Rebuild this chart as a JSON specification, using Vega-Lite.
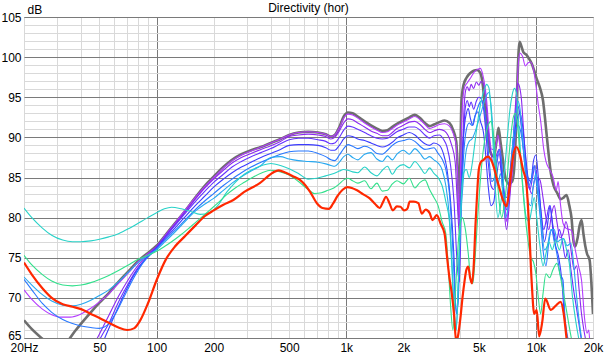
{
"$schema": "https://vega.github.io/schema/vega-lite/v6.json",
"width": 569, "height": 321,
"autosize": {"type": "none"},
"padding": {"left": 24, "top": 17, "right": 18, "bottom": 17},
"background": "white",
"title": {"text": "Directivity (hor)", "fontSize": 12, "fontWeight": "normal", "font": "Liberation Sans", "color": "#000000", "offset": -12, "anchor": "middle", "frame": "group"},
"config": {"view": {"stroke": "#707070", "strokeWidth": 1}, "font": "Liberation Sans"},
"data": {"values": [
{"a":"0","f":20,"v":67.2},{"a":"0","f":22,"v":66.1},{"a":"0","f":25,"v":64.9},{"a":"0","f":28,"v":63.9},{"a":"0","f":31,"v":63.6},{"a":"0","f":34,"v":64.6},{"a":"0","f":37,"v":65.8},{"a":"0","f":40,"v":66.8},{"a":"0","f":45,"v":68.2},{"a":"0","f":50,"v":69.4},{"a":"0","f":56,"v":70.6},{"a":"0","f":63,"v":72},{"a":"0","f":71,"v":73.3},{"a":"0","f":80,"v":74.6},{"a":"0","f":90,"v":75.6},{"a":"0","f":100,"v":76.5},{"a":"0","f":112,"v":77.9},{"a":"0","f":125,"v":79.3},{"a":"0","f":140,"v":80.7},{"a":"0","f":160,"v":82.5},{"a":"0","f":180,"v":84},{"a":"0","f":200,"v":85.1},{"a":"0","f":225,"v":86.3},{"a":"0","f":250,"v":87.2},{"a":"0","f":280,"v":87.9},{"a":"0","f":315,"v":88.4},{"a":"0","f":355,"v":88.8},{"a":"0","f":400,"v":89.3},{"a":"0","f":450,"v":89.8},{"a":"0","f":500,"v":90.3},{"a":"0","f":560,"v":90.6},{"a":"0","f":630,"v":90.7},{"a":"0","f":710,"v":90.6},{"a":"0","f":780,"v":90.4},{"a":"0","f":830,"v":90.1},{"a":"0","f":870,"v":90.3},{"a":"0","f":920,"v":91.3},{"a":"0","f":970,"v":92.6},{"a":"0","f":1020,"v":93.1},{"a":"0","f":1080,"v":93},{"a":"0","f":1150,"v":92.6},{"a":"0","f":1250,"v":92},{"a":"0","f":1350,"v":91.5},{"a":"0","f":1450,"v":91.1},{"a":"0","f":1550,"v":90.8},{"a":"0","f":1650,"v":90.9},{"a":"0","f":1750,"v":91.3},{"a":"0","f":1850,"v":91.7},{"a":"0","f":2000,"v":92.1},{"a":"0","f":2150,"v":92.5},{"a":"0","f":2300,"v":92.8},{"a":"0","f":2450,"v":92.4},{"a":"0","f":2600,"v":91.8},{"a":"0","f":2750,"v":91.4},{"a":"0","f":2900,"v":91.6},{"a":"0","f":3100,"v":91.9},{"a":"0","f":3300,"v":92.1},{"a":"0","f":3500,"v":91.8},{"a":"0","f":3650,"v":91},{"a":"0","f":3800,"v":89.5},{"a":"0","f":3900,"v":84},{"a":"0","f":3950,"v":80},{"a":"0","f":4000,"v":88},{"a":"0","f":4050,"v":94.5},{"a":"0","f":4150,"v":96.5},{"a":"0","f":4300,"v":97.4},{"a":"0","f":4500,"v":98},{"a":"0","f":4700,"v":98.3},{"a":"0","f":4900,"v":98.4},{"a":"0","f":5100,"v":98},{"a":"0","f":5250,"v":96.5},{"a":"0","f":5400,"v":93.5},{"a":"0","f":5550,"v":90.5},{"a":"0","f":5750,"v":88.2},{"a":"0","f":6000,"v":87.6},{"a":"0","f":6200,"v":89.5},{"a":"0","f":6350,"v":91.2},{"a":"0","f":6500,"v":89.5},{"a":"0","f":6700,"v":87.2},{"a":"0","f":6900,"v":85},{"a":"0","f":7200,"v":84.2},{"a":"0","f":7500,"v":84.5},{"a":"0","f":7700,"v":86.5},{"a":"0","f":7850,"v":91},{"a":"0","f":8000,"v":97.5},{"a":"0","f":8200,"v":101.9},{"a":"0","f":8400,"v":101.3},{"a":"0","f":8600,"v":100.6},{"a":"0","f":8900,"v":100.3},{"a":"0","f":9200,"v":99.8},{"a":"0","f":9500,"v":99.2},{"a":"0","f":9800,"v":98.3},{"a":"0","f":10100,"v":97.3},{"a":"0","f":10500,"v":96.2},{"a":"0","f":10900,"v":94.6},{"a":"0","f":11200,"v":92.1},{"a":"0","f":11600,"v":88.5},{"a":"0","f":12000,"v":85.5},{"a":"0","f":12400,"v":84},{"a":"0","f":13000,"v":83},{"a":"0","f":13500,"v":82.3},{"a":"0","f":14000,"v":82.5},{"a":"0","f":14500,"v":82.8},{"a":"0","f":15000,"v":81.5},{"a":"0","f":15400,"v":80},{"a":"0","f":15800,"v":77},{"a":"0","f":16100,"v":76.4},{"a":"0","f":16600,"v":77.5},{"a":"0","f":17000,"v":79},{"a":"0","f":17400,"v":79.7},{"a":"0","f":17800,"v":78},{"a":"0","f":18200,"v":76.5},{"a":"0","f":18600,"v":75.5},{"a":"0","f":19200,"v":74.7},{"a":"0","f":19600,"v":72},{"a":"0","f":20000,"v":68},
{"a":"10","f":20,"v":71},{"a":"10","f":22,"v":69.8},{"a":"10","f":25,"v":68.6},{"a":"10","f":28,"v":67.9},{"a":"10","f":31,"v":67.6},{"a":"10","f":35,"v":67.6},{"a":"10","f":40,"v":68},{"a":"10","f":45,"v":68.7},{"a":"10","f":50,"v":69.5},{"a":"10","f":56,"v":70.5},{"a":"10","f":63,"v":71.8},{"a":"10","f":71,"v":73.1},{"a":"10","f":80,"v":74.5},{"a":"10","f":90,"v":75.5},{"a":"10","f":100,"v":76.4},{"a":"10","f":112,"v":77.9},{"a":"10","f":125,"v":79.3},{"a":"10","f":140,"v":80.8},{"a":"10","f":160,"v":82.5},{"a":"10","f":180,"v":83.9},{"a":"10","f":200,"v":85},{"a":"10","f":225,"v":86.2},{"a":"10","f":250,"v":87.1},{"a":"10","f":280,"v":87.8},{"a":"10","f":315,"v":88.3},{"a":"10","f":355,"v":88.8},{"a":"10","f":400,"v":89.3},{"a":"10","f":450,"v":89.8},{"a":"10","f":500,"v":90.3},{"a":"10","f":560,"v":90.6},{"a":"10","f":630,"v":90.7},{"a":"10","f":710,"v":90.6},{"a":"10","f":780,"v":90.4},{"a":"10","f":830,"v":90.1},{"a":"10","f":870,"v":90.3},{"a":"10","f":920,"v":91.2},{"a":"10","f":970,"v":92.4},{"a":"10","f":1020,"v":92.9},{"a":"10","f":1080,"v":92.8},{"a":"10","f":1150,"v":92.4},{"a":"10","f":1250,"v":91.8},{"a":"10","f":1350,"v":91.3},{"a":"10","f":1450,"v":90.9},{"a":"10","f":1550,"v":90.6},{"a":"10","f":1650,"v":90.7},{"a":"10","f":1750,"v":91.1},{"a":"10","f":1850,"v":91.5},{"a":"10","f":2000,"v":91.9},{"a":"10","f":2150,"v":92.3},{"a":"10","f":2300,"v":92.6},{"a":"10","f":2450,"v":92.2},{"a":"10","f":2600,"v":91.6},{"a":"10","f":2750,"v":91.1},{"a":"10","f":2900,"v":91.3},{"a":"10","f":3100,"v":91.6},{"a":"10","f":3300,"v":91.7},{"a":"10","f":3500,"v":91.4},{"a":"10","f":3650,"v":90.6},{"a":"10","f":3800,"v":89},{"a":"10","f":3900,"v":83},{"a":"10","f":3950,"v":79},{"a":"10","f":4000,"v":86},{"a":"10","f":4080,"v":93},{"a":"10","f":4200,"v":96.2},{"a":"10","f":4350,"v":96.8},{"a":"10","f":4550,"v":97.5},{"a":"10","f":4750,"v":98.2},{"a":"10","f":4950,"v":98.5},{"a":"10","f":5100,"v":98.6},{"a":"10","f":5250,"v":97.8},{"a":"10","f":5400,"v":96.2},{"a":"10","f":5500,"v":94.6},{"a":"10","f":5650,"v":91},{"a":"10","f":5850,"v":88.5},{"a":"10","f":6100,"v":88.5},{"a":"10","f":6300,"v":90.3},{"a":"10","f":6450,"v":89},{"a":"10","f":6650,"v":85.5},{"a":"10","f":6850,"v":82},{"a":"10","f":7000,"v":79.5},{"a":"10","f":7200,"v":82},{"a":"10","f":7500,"v":85.5},{"a":"10","f":7750,"v":90},{"a":"10","f":7950,"v":96},{"a":"10","f":8100,"v":99.5},{"a":"10","f":8250,"v":100.5},{"a":"10","f":8500,"v":100.1},{"a":"10","f":8800,"v":98.9},{"a":"10","f":9100,"v":99.3},{"a":"10","f":9400,"v":99.4},{"a":"10","f":9700,"v":98.5},{"a":"10","f":10000,"v":96.5},{"a":"10","f":10300,"v":94},{"a":"10","f":10600,"v":92},{"a":"10","f":11000,"v":88.5},{"a":"10","f":11300,"v":87},{"a":"10","f":11800,"v":86},{"a":"10","f":12300,"v":85.1},{"a":"10","f":12800,"v":83.4},{"a":"10","f":13100,"v":84.5},{"a":"10","f":13400,"v":82.2},{"a":"10","f":13900,"v":79.3},{"a":"10","f":14400,"v":78.7},{"a":"10","f":15400,"v":78.4},{"a":"10","f":16000,"v":76.4},{"a":"10","f":16800,"v":73.9},{"a":"10","f":17400,"v":72.2},{"a":"10","f":18100,"v":67.2},{"a":"10","f":18600,"v":65.6},{"a":"10","f":19000,"v":66},{"a":"10","f":19300,"v":64},{"a":"10","f":20000,"v":62},
{"a":"20","f":20,"v":60},{"a":"20","f":30,"v":59},{"a":"20","f":40,"v":61.5},{"a":"20","f":45,"v":63.5},{"a":"20","f":50,"v":65.5},{"a":"20","f":56,"v":67.8},{"a":"20","f":63,"v":70.2},{"a":"20","f":71,"v":72.3},{"a":"20","f":80,"v":74.1},{"a":"20","f":90,"v":75.4},{"a":"20","f":100,"v":76.4},{"a":"20","f":112,"v":77.8},{"a":"20","f":125,"v":79.2},{"a":"20","f":140,"v":80.6},{"a":"20","f":160,"v":82.3},{"a":"20","f":180,"v":83.7},{"a":"20","f":200,"v":84.8},{"a":"20","f":225,"v":85.9},{"a":"20","f":250,"v":86.8},{"a":"20","f":280,"v":87.5},{"a":"20","f":315,"v":88},{"a":"20","f":355,"v":88.5},{"a":"20","f":400,"v":88.95},{"a":"20","f":450,"v":89.5},{"a":"20","f":500,"v":90.1},{"a":"20","f":560,"v":90.3},{"a":"20","f":630,"v":90.4},{"a":"20","f":710,"v":90.3},{"a":"20","f":780,"v":90.1},{"a":"20","f":830,"v":89.8},{"a":"20","f":870,"v":90},{"a":"20","f":920,"v":90.8},{"a":"20","f":970,"v":91.8},{"a":"20","f":1020,"v":92.3},{"a":"20","f":1080,"v":92.2},{"a":"20","f":1150,"v":91.8},{"a":"20","f":1250,"v":91.3},{"a":"20","f":1350,"v":90.8},{"a":"20","f":1450,"v":90.5},{"a":"20","f":1550,"v":90.2},{"a":"20","f":1650,"v":90.2},{"a":"20","f":1750,"v":90.6},{"a":"20","f":1850,"v":91.1},{"a":"20","f":2000,"v":91.5},{"a":"20","f":2150,"v":91.9},{"a":"20","f":2300,"v":92},{"a":"20","f":2450,"v":91.6},{"a":"20","f":2600,"v":91},{"a":"20","f":2750,"v":90.6},{"a":"20","f":2900,"v":90.8},{"a":"20","f":3100,"v":91},{"a":"20","f":3300,"v":90.8},{"a":"20","f":3450,"v":90.2},{"a":"20","f":3600,"v":89},{"a":"20","f":3750,"v":87},{"a":"20","f":3850,"v":82},{"a":"20","f":3950,"v":78},{"a":"20","f":4050,"v":84},{"a":"20","f":4150,"v":92},{"a":"20","f":4250,"v":95.7},{"a":"20","f":4350,"v":96.3},{"a":"20","f":4450,"v":95.8},{"a":"20","f":4550,"v":96.6},{"a":"20","f":4700,"v":96.1},{"a":"20","f":4850,"v":96.9},{"a":"20","f":5000,"v":96.5},{"a":"20","f":5150,"v":97},{"a":"20","f":5300,"v":96.6},{"a":"20","f":5450,"v":94.5},{"a":"20","f":5600,"v":91},{"a":"20","f":5800,"v":88},{"a":"20","f":6000,"v":86.5},{"a":"20","f":6200,"v":87.8},{"a":"20","f":6400,"v":88.5},{"a":"20","f":6600,"v":85},{"a":"20","f":6800,"v":81},{"a":"20","f":7000,"v":78.5},{"a":"20","f":7200,"v":81},{"a":"20","f":7450,"v":86},{"a":"20","f":7700,"v":92},{"a":"20","f":7900,"v":95.5},{"a":"20","f":8050,"v":96.7},{"a":"20","f":8200,"v":96.3},{"a":"20","f":8400,"v":94.6},{"a":"20","f":8600,"v":91},{"a":"20","f":8900,"v":86.3},{"a":"20","f":9200,"v":84},{"a":"20","f":9500,"v":83},{"a":"20","f":9800,"v":84.5},{"a":"20","f":10100,"v":85},{"a":"20","f":10500,"v":84.7},{"a":"20","f":10900,"v":82.5},{"a":"20","f":11300,"v":80},{"a":"20","f":11700,"v":78.5},{"a":"20","f":12100,"v":80.5},{"a":"20","f":12500,"v":81.5},{"a":"20","f":12900,"v":79.5},{"a":"20","f":13400,"v":77.5},{"a":"20","f":13900,"v":78},{"a":"20","f":14400,"v":79.5},{"a":"20","f":14900,"v":78},{"a":"20","f":15400,"v":75.5},{"a":"20","f":15900,"v":73.5},{"a":"20","f":16400,"v":74},{"a":"20","f":16900,"v":71},{"a":"20","f":17400,"v":68},{"a":"20","f":17900,"v":66},{"a":"20","f":18400,"v":64.5},{"a":"20","f":20000,"v":61},
{"a":"30","f":20,"v":58},{"a":"30","f":40,"v":60},{"a":"30","f":47,"v":63.5},{"a":"30","f":52,"v":65.5},{"a":"30","f":56,"v":66.8},{"a":"30","f":63,"v":69.5},{"a":"30","f":71,"v":71.8},{"a":"30","f":80,"v":73.8},{"a":"30","f":90,"v":75.2},{"a":"30","f":100,"v":76.3},{"a":"30","f":112,"v":77.7},{"a":"30","f":125,"v":79},{"a":"30","f":140,"v":80.4},{"a":"30","f":160,"v":82},{"a":"30","f":180,"v":83.3},{"a":"30","f":200,"v":84.4},{"a":"30","f":225,"v":85.4},{"a":"30","f":250,"v":86.3},{"a":"30","f":280,"v":87},{"a":"30","f":315,"v":87.6},{"a":"30","f":355,"v":88.1},{"a":"30","f":400,"v":88.6},{"a":"30","f":450,"v":89.2},{"a":"30","f":500,"v":89.7},{"a":"30","f":560,"v":89.9},{"a":"30","f":630,"v":89.9},{"a":"30","f":710,"v":89.7},{"a":"30","f":780,"v":89.5},{"a":"30","f":830,"v":89.2},{"a":"30","f":870,"v":89.3},{"a":"30","f":920,"v":90},{"a":"30","f":970,"v":90.9},{"a":"30","f":1020,"v":91.4},{"a":"30","f":1080,"v":91.3},{"a":"30","f":1150,"v":91},{"a":"30","f":1250,"v":90.6},{"a":"30","f":1350,"v":90.2},{"a":"30","f":1450,"v":89.9},{"a":"30","f":1550,"v":89.8},{"a":"30","f":1650,"v":89.9},{"a":"30","f":1750,"v":90.3},{"a":"30","f":1850,"v":90.7},{"a":"30","f":2000,"v":91},{"a":"30","f":2150,"v":91.3},{"a":"30","f":2300,"v":91.3},{"a":"30","f":2450,"v":90.9},{"a":"30","f":2600,"v":90.3},{"a":"30","f":2750,"v":89.9},{"a":"30","f":2900,"v":90.2},{"a":"30","f":3100,"v":90.3},{"a":"30","f":3250,"v":89.8},{"a":"30","f":3400,"v":88.8},{"a":"30","f":3550,"v":86.5},{"a":"30","f":3700,"v":82},{"a":"30","f":3850,"v":74},{"a":"30","f":3950,"v":72},{"a":"30","f":4050,"v":82},{"a":"30","f":4150,"v":90},{"a":"30","f":4250,"v":93.8},{"a":"30","f":4350,"v":94.6},{"a":"30","f":4450,"v":93.8},{"a":"30","f":4550,"v":94.4},{"a":"30","f":4700,"v":93.5},{"a":"30","f":4850,"v":94.5},{"a":"30","f":5000,"v":95},{"a":"30","f":5150,"v":94.8},{"a":"30","f":5300,"v":93.5},{"a":"30","f":5450,"v":90.5},{"a":"30","f":5600,"v":87},{"a":"30","f":5800,"v":84},{"a":"30","f":6000,"v":83.5},{"a":"30","f":6200,"v":86.5},{"a":"30","f":6400,"v":88},{"a":"30","f":6600,"v":86},{"a":"30","f":6800,"v":82.5},{"a":"30","f":7000,"v":81},{"a":"30","f":7250,"v":84},{"a":"30","f":7500,"v":88},{"a":"30","f":7750,"v":92},{"a":"30","f":7950,"v":94},{"a":"30","f":8150,"v":93.5},{"a":"30","f":8400,"v":91},{"a":"30","f":8700,"v":87},{"a":"30","f":9000,"v":84.5},{"a":"30","f":9300,"v":83.5},{"a":"30","f":9600,"v":85},{"a":"30","f":9900,"v":86.5},{"a":"30","f":10200,"v":84.5},{"a":"30","f":10600,"v":81},{"a":"30","f":11000,"v":78.5},{"a":"30","f":11400,"v":80},{"a":"30","f":11800,"v":81.5},{"a":"30","f":12300,"v":79},{"a":"30","f":12800,"v":77},{"a":"30","f":13300,"v":78.5},{"a":"30","f":13800,"v":77},{"a":"30","f":14300,"v":75},{"a":"30","f":14800,"v":76},{"a":"30","f":15300,"v":73.5},{"a":"30","f":15800,"v":71},{"a":"30","f":16300,"v":69},{"a":"30","f":16800,"v":67},{"a":"30","f":17300,"v":65},{"a":"30","f":18000,"v":63},
{"a":"40","f":20,"v":57},{"a":"40","f":45,"v":61},{"a":"40","f":50,"v":63.5},{"a":"40","f":54,"v":65.3},{"a":"40","f":60,"v":67.8},{"a":"40","f":67,"v":70.3},{"a":"40","f":75,"v":72.6},{"a":"40","f":85,"v":74.5},{"a":"40","f":100,"v":76.2},{"a":"40","f":112,"v":77.5},{"a":"40","f":125,"v":78.7},{"a":"40","f":140,"v":80},{"a":"40","f":160,"v":81.5},{"a":"40","f":180,"v":82.7},{"a":"40","f":200,"v":83.8},{"a":"40","f":225,"v":84.8},{"a":"40","f":250,"v":85.6},{"a":"40","f":280,"v":86.3},{"a":"40","f":315,"v":86.9},{"a":"40","f":355,"v":87.5},{"a":"40","f":400,"v":88},{"a":"40","f":450,"v":88.5},{"a":"40","f":500,"v":89},{"a":"40","f":560,"v":89.1},{"a":"40","f":630,"v":89.1},{"a":"40","f":710,"v":89},{"a":"40","f":780,"v":88.7},{"a":"40","f":830,"v":88.4},{"a":"40","f":870,"v":88.4},{"a":"40","f":920,"v":89},{"a":"40","f":970,"v":89.8},{"a":"40","f":1020,"v":90.2},{"a":"40","f":1080,"v":90.1},{"a":"40","f":1150,"v":89.8},{"a":"40","f":1250,"v":89.6},{"a":"40","f":1350,"v":89.3},{"a":"40","f":1450,"v":89},{"a":"40","f":1550,"v":88.8},{"a":"40","f":1650,"v":89},{"a":"40","f":1750,"v":89.4},{"a":"40","f":1850,"v":89.9},{"a":"40","f":2000,"v":90.3},{"a":"40","f":2150,"v":90.6},{"a":"40","f":2300,"v":90.3},{"a":"40","f":2450,"v":89.7},{"a":"40","f":2600,"v":89.2},{"a":"40","f":2750,"v":89},{"a":"40","f":2900,"v":89.3},{"a":"40","f":3100,"v":89},{"a":"40","f":3250,"v":88},{"a":"40","f":3400,"v":86},{"a":"40","f":3550,"v":82},{"a":"40","f":3700,"v":75},{"a":"40","f":3800,"v":68},{"a":"40","f":3900,"v":70},{"a":"40","f":4000,"v":80},{"a":"40","f":4100,"v":88},{"a":"40","f":4200,"v":91.5},{"a":"40","f":4300,"v":93},{"a":"40","f":4400,"v":93.6},{"a":"40","f":4500,"v":92.5},{"a":"40","f":4650,"v":91.5},{"a":"40","f":4800,"v":92.8},{"a":"40","f":4950,"v":93.2},{"a":"40","f":5100,"v":92},{"a":"40","f":5300,"v":90.5},{"a":"40","f":5450,"v":87.5},{"a":"40","f":5600,"v":84},{"a":"40","f":5800,"v":81.5},{"a":"40","f":6000,"v":82},{"a":"40","f":6200,"v":85},{"a":"40","f":6400,"v":87},{"a":"40","f":6600,"v":85.5},{"a":"40","f":6800,"v":83},{"a":"40","f":7000,"v":82.5},{"a":"40","f":7250,"v":85},{"a":"40","f":7500,"v":88.5},{"a":"40","f":7750,"v":91},{"a":"40","f":8000,"v":92.5},{"a":"40","f":8250,"v":93},{"a":"40","f":8500,"v":91.5},{"a":"40","f":8800,"v":88},{"a":"40","f":9100,"v":85},{"a":"40","f":9400,"v":84.5},{"a":"40","f":9700,"v":87},{"a":"40","f":10000,"v":87.8},{"a":"40","f":10300,"v":85},{"a":"40","f":10700,"v":80},{"a":"40","f":11100,"v":77},{"a":"40","f":11500,"v":79},{"a":"40","f":11900,"v":81.5},{"a":"40","f":12300,"v":78.4},{"a":"40","f":12700,"v":76.5},{"a":"40","f":13200,"v":75},{"a":"40","f":13700,"v":72.2},{"a":"40","f":14100,"v":68},{"a":"40","f":14500,"v":65.5},{"a":"40","f":15000,"v":64},{"a":"40","f":16000,"v":62},
{"a":"50","f":20,"v":72.3},{"a":"50","f":22,"v":71},{"a":"50","f":25,"v":69.3},{"a":"50","f":28,"v":68.2},{"a":"50","f":32,"v":67.3},{"a":"50","f":36,"v":66.8},{"a":"50","f":40,"v":66.5},{"a":"50","f":45,"v":66.3},{"a":"50","f":50,"v":66.2},{"a":"50","f":55,"v":66.6},{"a":"50","f":60,"v":67.8},{"a":"50","f":67,"v":70},{"a":"50","f":75,"v":72.3},{"a":"50","f":85,"v":74.4},{"a":"50","f":100,"v":76.1},{"a":"50","f":112,"v":77.3},{"a":"50","f":125,"v":78.4},{"a":"50","f":140,"v":79.6},{"a":"50","f":160,"v":81},{"a":"50","f":180,"v":82.1},{"a":"50","f":200,"v":83},{"a":"50","f":225,"v":84},{"a":"50","f":250,"v":84.8},{"a":"50","f":280,"v":85.6},{"a":"50","f":315,"v":86.3},{"a":"50","f":355,"v":86.9},{"a":"50","f":400,"v":87.4},{"a":"50","f":450,"v":87.9},{"a":"50","f":500,"v":88.2},{"a":"50","f":560,"v":88.3},{"a":"50","f":630,"v":88.3},{"a":"50","f":710,"v":88},{"a":"50","f":780,"v":87.6},{"a":"50","f":830,"v":87.2},{"a":"50","f":870,"v":87.1},{"a":"50","f":920,"v":87.8},{"a":"50","f":970,"v":88.6},{"a":"50","f":1020,"v":89.1},{"a":"50","f":1080,"v":88.9},{"a":"50","f":1150,"v":88.6},{"a":"50","f":1250,"v":88.9},{"a":"50","f":1350,"v":88.6},{"a":"50","f":1450,"v":88},{"a":"50","f":1550,"v":87.9},{"a":"50","f":1650,"v":88.4},{"a":"50","f":1750,"v":89},{"a":"50","f":1850,"v":89.4},{"a":"50","f":2000,"v":89.6},{"a":"50","f":2150,"v":89.8},{"a":"50","f":2300,"v":89.5},{"a":"50","f":2450,"v":88.9},{"a":"50","f":2600,"v":88.5},{"a":"50","f":2750,"v":88.6},{"a":"50","f":2900,"v":88.7},{"a":"50","f":3050,"v":88},{"a":"50","f":3200,"v":87.3},{"a":"50","f":3350,"v":86},{"a":"50","f":3500,"v":83},{"a":"50","f":3650,"v":76},{"a":"50","f":3750,"v":70},{"a":"50","f":3850,"v":68},{"a":"50","f":3950,"v":76},{"a":"50","f":4050,"v":83},{"a":"50","f":4150,"v":87.5},{"a":"50","f":4300,"v":91},{"a":"50","f":4450,"v":91.8},{"a":"50","f":4600,"v":91.5},{"a":"50","f":4750,"v":92.5},{"a":"50","f":4900,"v":93.5},{"a":"50","f":5050,"v":94.3},{"a":"50","f":5200,"v":94.6},{"a":"50","f":5350,"v":93.5},{"a":"50","f":5500,"v":91},{"a":"50","f":5650,"v":87.5},{"a":"50","f":5850,"v":84.5},{"a":"50","f":6050,"v":85},{"a":"50","f":6250,"v":87.5},{"a":"50","f":6450,"v":88.5},{"a":"50","f":6650,"v":86},{"a":"50","f":6850,"v":82.5},{"a":"50","f":7050,"v":81.5},{"a":"50","f":7300,"v":84.5},{"a":"50","f":7550,"v":88},{"a":"50","f":7800,"v":90.5},{"a":"50","f":8050,"v":91.5},{"a":"50","f":8300,"v":90.8},{"a":"50","f":8600,"v":88.5},{"a":"50","f":8900,"v":86},{"a":"50","f":9200,"v":84},{"a":"50","f":9500,"v":85},{"a":"50","f":9800,"v":86.5},{"a":"50","f":10100,"v":84},{"a":"50","f":10500,"v":80.5},{"a":"50","f":10900,"v":76},{"a":"50","f":11300,"v":74},{"a":"50","f":11700,"v":77},{"a":"50","f":12100,"v":78.5},{"a":"50","f":12500,"v":77},{"a":"50","f":12900,"v":75.5},{"a":"50","f":13400,"v":73},{"a":"50","f":13900,"v":72.2},{"a":"50","f":14200,"v":68},{"a":"50","f":14600,"v":65.5},{"a":"50","f":15200,"v":64},{"a":"50","f":16000,"v":62},
{"a":"60","f":20,"v":72.6},{"a":"60","f":22,"v":71.6},{"a":"60","f":25,"v":70.4},{"a":"60","f":28,"v":69.6},{"a":"60","f":32,"v":69.1},{"a":"60","f":36,"v":69},{"a":"60","f":40,"v":69.2},{"a":"60","f":45,"v":69.7},{"a":"60","f":50,"v":70.3},{"a":"60","f":56,"v":71},{"a":"60","f":63,"v":72},{"a":"60","f":71,"v":73.2},{"a":"60","f":80,"v":74.4},{"a":"60","f":90,"v":75.3},{"a":"60","f":100,"v":76},{"a":"60","f":112,"v":77.1},{"a":"60","f":125,"v":78.2},{"a":"60","f":140,"v":79.4},{"a":"60","f":160,"v":80.8},{"a":"60","f":180,"v":81.7},{"a":"60","f":200,"v":82.4},{"a":"60","f":225,"v":83.4},{"a":"60","f":250,"v":84.3},{"a":"60","f":280,"v":85.1},{"a":"60","f":315,"v":85.8},{"a":"60","f":355,"v":86.5},{"a":"60","f":400,"v":87.5},{"a":"60","f":450,"v":87.6},{"a":"60","f":500,"v":87.3},{"a":"60","f":560,"v":87.1},{"a":"60","f":630,"v":87},{"a":"60","f":710,"v":86.9},{"a":"60","f":780,"v":86.7},{"a":"60","f":830,"v":86.5},{"a":"60","f":870,"v":86.4},{"a":"60","f":920,"v":86.9},{"a":"60","f":970,"v":87.6},{"a":"60","f":1020,"v":87.9},{"a":"60","f":1080,"v":87.5},{"a":"60","f":1150,"v":87.2},{"a":"60","f":1250,"v":87.9},{"a":"60","f":1350,"v":88.1},{"a":"60","f":1450,"v":87.3},{"a":"60","f":1550,"v":87},{"a":"60","f":1650,"v":87.7},{"a":"60","f":1750,"v":87.2},{"a":"60","f":1850,"v":87.9},{"a":"60","f":2000,"v":88.4},{"a":"60","f":2150,"v":87.9},{"a":"60","f":2300,"v":88.6},{"a":"60","f":2450,"v":88},{"a":"60","f":2600,"v":87.3},{"a":"60","f":2750,"v":87.6},{"a":"60","f":2900,"v":87.2},{"a":"60","f":3050,"v":86.8},{"a":"60","f":3200,"v":86},{"a":"60","f":3350,"v":84},{"a":"60","f":3500,"v":80},{"a":"60","f":3600,"v":75},{"a":"60","f":3700,"v":69},{"a":"60","f":3800,"v":66},{"a":"60","f":3900,"v":72},{"a":"60","f":4000,"v":79},{"a":"60","f":4150,"v":85},{"a":"60","f":4300,"v":88.5},{"a":"60","f":4450,"v":89.5},{"a":"60","f":4600,"v":89.8},{"a":"60","f":4750,"v":90.5},{"a":"60","f":4900,"v":91.5},{"a":"60","f":5050,"v":92.5},{"a":"60","f":5200,"v":93.5},{"a":"60","f":5350,"v":94.5},{"a":"60","f":5500,"v":95.3},{"a":"60","f":5650,"v":95.6},{"a":"60","f":5800,"v":94},{"a":"60","f":5950,"v":90.5},{"a":"60","f":6100,"v":86.5},{"a":"60","f":6300,"v":84},{"a":"60","f":6500,"v":85.5},{"a":"60","f":6700,"v":83},{"a":"60","f":6900,"v":80},{"a":"60","f":7100,"v":81},{"a":"60","f":7350,"v":85.5},{"a":"60","f":7600,"v":90},{"a":"60","f":7850,"v":93},{"a":"60","f":8050,"v":94.5},{"a":"60","f":8250,"v":93.5},{"a":"60","f":8500,"v":90},{"a":"60","f":8800,"v":85.5},{"a":"60","f":9100,"v":82},{"a":"60","f":9400,"v":81.5},{"a":"60","f":9700,"v":84},{"a":"60","f":10000,"v":85.5},{"a":"60","f":10300,"v":83},{"a":"60","f":10700,"v":79},{"a":"60","f":11100,"v":76},{"a":"60","f":11500,"v":76.5},{"a":"60","f":12000,"v":78.5},{"a":"60","f":12500,"v":78.5},{"a":"60","f":13000,"v":77},{"a":"60","f":13400,"v":77.2},{"a":"60","f":14000,"v":77.4},{"a":"60","f":14600,"v":76.5},{"a":"60","f":15300,"v":76.8},{"a":"60","f":15800,"v":74.3},{"a":"60","f":16400,"v":70.1},{"a":"60","f":16900,"v":67.2},{"a":"60","f":17400,"v":65},{"a":"60","f":18000,"v":63},
{"a":"70","f":20,"v":81.2},{"a":"70","f":22,"v":80},{"a":"70","f":25,"v":78.7},{"a":"70","f":28,"v":77.8},{"a":"70","f":32,"v":77.2},{"a":"70","f":36,"v":77},{"a":"70","f":40,"v":77},{"a":"70","f":45,"v":77.1},{"a":"70","f":50,"v":77.3},{"a":"70","f":56,"v":77.6},{"a":"70","f":63,"v":78},{"a":"70","f":71,"v":78.6},{"a":"70","f":80,"v":79.3},{"a":"70","f":90,"v":80},{"a":"70","f":100,"v":80.6},{"a":"70","f":110,"v":81.1},{"a":"70","f":120,"v":81.3},{"a":"70","f":135,"v":81.1},{"a":"70","f":150,"v":80.8},{"a":"70","f":170,"v":80.4},{"a":"70","f":190,"v":80.6},{"a":"70","f":210,"v":81.5},{"a":"70","f":235,"v":83.2},{"a":"70","f":260,"v":84.4},{"a":"70","f":290,"v":85.4},{"a":"70","f":320,"v":86},{"a":"70","f":360,"v":86.5},{"a":"70","f":400,"v":86.75},{"a":"70","f":450,"v":86.5},{"a":"70","f":500,"v":86.1},{"a":"70","f":560,"v":85.5},{"a":"70","f":630,"v":84.8},{"a":"70","f":700,"v":84.9},{"a":"70","f":780,"v":85.2},{"a":"70","f":860,"v":85.5},{"a":"70","f":920,"v":85.8},{"a":"70","f":970,"v":86},{"a":"70","f":1020,"v":85.9},{"a":"70","f":1080,"v":85.7},{"a":"70","f":1150,"v":85.6},{"a":"70","f":1250,"v":86.3},{"a":"70","f":1350,"v":85.6},{"a":"70","f":1450,"v":85.2},{"a":"70","f":1550,"v":85.9},{"a":"70","f":1650,"v":86.4},{"a":"70","f":1750,"v":85.4},{"a":"70","f":1850,"v":86.2},{"a":"70","f":2000,"v":86.6},{"a":"70","f":2150,"v":86.2},{"a":"70","f":2300,"v":87},{"a":"70","f":2450,"v":86.3},{"a":"70","f":2600,"v":85.5},{"a":"70","f":2750,"v":86.2},{"a":"70","f":2900,"v":85.5},{"a":"70","f":3050,"v":85},{"a":"70","f":3200,"v":84},{"a":"70","f":3350,"v":82},{"a":"70","f":3500,"v":79.5},{"a":"70","f":3600,"v":74},{"a":"70","f":3700,"v":68},{"a":"70","f":3800,"v":66},{"a":"70","f":3900,"v":72},{"a":"70","f":4000,"v":80},{"a":"70","f":4150,"v":85.5},{"a":"70","f":4300,"v":86},{"a":"70","f":4450,"v":85},{"a":"70","f":4600,"v":86.5},{"a":"70","f":4750,"v":89},{"a":"70","f":4900,"v":91.5},{"a":"70","f":5050,"v":93.5},{"a":"70","f":5200,"v":95},{"a":"70","f":5350,"v":96},{"a":"70","f":5500,"v":96.6},{"a":"70","f":5650,"v":96.2},{"a":"70","f":5800,"v":93.5},{"a":"70","f":5950,"v":89},{"a":"70","f":6100,"v":84},{"a":"70","f":6300,"v":80},{"a":"70","f":6500,"v":81.5},{"a":"70","f":6700,"v":84},{"a":"70","f":6900,"v":87},{"a":"70","f":7100,"v":90.5},{"a":"70","f":7300,"v":93.5},{"a":"70","f":7500,"v":95.3},{"a":"70","f":7700,"v":96.1},{"a":"70","f":7900,"v":95.5},{"a":"70","f":8100,"v":92},{"a":"70","f":8350,"v":87},{"a":"70","f":8600,"v":83},{"a":"70","f":8900,"v":80},{"a":"70","f":9200,"v":79.5},{"a":"70","f":9500,"v":81},{"a":"70","f":9800,"v":82.5},{"a":"70","f":10100,"v":80},{"a":"70","f":10500,"v":76.5},{"a":"70","f":10900,"v":74},{"a":"70","f":11300,"v":75.5},{"a":"70","f":11700,"v":77},{"a":"70","f":12200,"v":76},{"a":"70","f":12700,"v":77.2},{"a":"70","f":13300,"v":76},{"a":"70","f":13900,"v":77.4},{"a":"70","f":14500,"v":76},{"a":"70","f":15000,"v":74.3},{"a":"70","f":15600,"v":70.1},{"a":"70","f":16200,"v":67.2},{"a":"70","f":16800,"v":65},{"a":"70","f":17500,"v":63},
{"a":"80","f":20,"v":75.3},{"a":"80","f":22,"v":74.1},{"a":"80","f":25,"v":72.9},{"a":"80","f":28,"v":72.1},{"a":"80","f":32,"v":71.6},{"a":"80","f":36,"v":71.5},{"a":"80","f":40,"v":71.6},{"a":"80","f":45,"v":71.9},{"a":"80","f":50,"v":72.3},{"a":"80","f":56,"v":72.8},{"a":"80","f":63,"v":73.4},{"a":"80","f":71,"v":74.1},{"a":"80","f":80,"v":74.8},{"a":"80","f":90,"v":75.3},{"a":"80","f":100,"v":75.8},{"a":"80","f":110,"v":76.4},{"a":"80","f":120,"v":77},{"a":"80","f":135,"v":77.9},{"a":"80","f":150,"v":78.8},{"a":"80","f":170,"v":79.9},{"a":"80","f":190,"v":80.9},{"a":"80","f":210,"v":81.8},{"a":"80","f":235,"v":82.9},{"a":"80","f":260,"v":83.7},{"a":"80","f":290,"v":84.4},{"a":"80","f":320,"v":85},{"a":"80","f":360,"v":85.6},{"a":"80","f":400,"v":85.9},{"a":"80","f":450,"v":85.7},{"a":"80","f":500,"v":85.3},{"a":"80","f":560,"v":84.5},{"a":"80","f":630,"v":83.5},{"a":"80","f":680,"v":83},{"a":"80","f":740,"v":83.1},{"a":"80","f":800,"v":83.4},{"a":"80","f":860,"v":83.7},{"a":"80","f":920,"v":84.2},{"a":"80","f":970,"v":84.7},{"a":"80","f":1020,"v":84.9},{"a":"80","f":1080,"v":84.6},{"a":"80","f":1150,"v":84.3},{"a":"80","f":1250,"v":84.6},{"a":"80","f":1350,"v":83.6},{"a":"80","f":1450,"v":84.3},{"a":"80","f":1550,"v":83.3},{"a":"80","f":1650,"v":83.4},{"a":"80","f":1750,"v":84.2},{"a":"80","f":1850,"v":84.6},{"a":"80","f":2000,"v":84.2},{"a":"80","f":2150,"v":84.9},{"a":"80","f":2300,"v":83.7},{"a":"80","f":2450,"v":84.4},{"a":"80","f":2600,"v":84.7},{"a":"80","f":2750,"v":83.5},{"a":"80","f":2900,"v":82.5},{"a":"80","f":3050,"v":81.5},{"a":"80","f":3200,"v":79.5},{"a":"80","f":3350,"v":78},{"a":"80","f":3450,"v":74},{"a":"80","f":3550,"v":69},{"a":"80","f":3650,"v":66},{"a":"80","f":3750,"v":70},{"a":"80","f":3850,"v":75},{"a":"80","f":3950,"v":78.5},{"a":"80","f":4100,"v":80},{"a":"80","f":4250,"v":78.5},{"a":"80","f":4400,"v":75.5},{"a":"80","f":4550,"v":72},{"a":"80","f":4650,"v":71.8},{"a":"80","f":4750,"v":74},{"a":"80","f":4900,"v":79},{"a":"80","f":5050,"v":83.5},{"a":"80","f":5200,"v":87},{"a":"80","f":5400,"v":90},{"a":"80","f":5600,"v":91.5},{"a":"80","f":5800,"v":92},{"a":"80","f":6000,"v":90},{"a":"80","f":6200,"v":86},{"a":"80","f":6400,"v":82},{"a":"80","f":6600,"v":80},{"a":"80","f":6800,"v":81.5},{"a":"80","f":7000,"v":84},{"a":"80","f":7200,"v":87.5},{"a":"80","f":7400,"v":90.5},{"a":"80","f":7600,"v":92.5},{"a":"80","f":7800,"v":93},{"a":"80","f":8000,"v":91.5},{"a":"80","f":8250,"v":88},{"a":"80","f":8500,"v":84},{"a":"80","f":8800,"v":80},{"a":"80","f":9100,"v":77},{"a":"80","f":9400,"v":75},{"a":"80","f":9700,"v":74.5},{"a":"80","f":10000,"v":73},{"a":"80","f":10300,"v":70},{"a":"80","f":10600,"v":68},{"a":"80","f":10900,"v":70.5},{"a":"80","f":11300,"v":73},{"a":"80","f":11800,"v":72.5},{"a":"80","f":12300,"v":73.5},{"a":"80","f":12900,"v":74.3},{"a":"80","f":13500,"v":72.5},{"a":"80","f":14100,"v":70.1},{"a":"80","f":14600,"v":68},{"a":"80","f":15200,"v":65.6},{"a":"80","f":16000,"v":63},
{"a":"90","f":20,"v":74.4},{"a":"90","f":22,"v":72.9},{"a":"90","f":25,"v":71.2},{"a":"90","f":28,"v":70},{"a":"90","f":32,"v":69.2},{"a":"90","f":36,"v":68.9},{"a":"90","f":40,"v":68.6},{"a":"90","f":45,"v":68},{"a":"90","f":50,"v":67.5},{"a":"90","f":56,"v":66.9},{"a":"90","f":63,"v":66.3},{"a":"90","f":70,"v":66},{"a":"90","f":76,"v":66.2},{"a":"90","f":82,"v":67.2},{"a":"90","f":90,"v":69.3},{"a":"90","f":100,"v":72.2},{"a":"90","f":112,"v":74.8},{"a":"90","f":125,"v":76.4},{"a":"90","f":140,"v":77.6},{"a":"90","f":160,"v":79},{"a":"90","f":180,"v":80.2},{"a":"90","f":200,"v":80.9},{"a":"90","f":225,"v":81.6},{"a":"90","f":254,"v":82.2},{"a":"90","f":290,"v":83.2},{"a":"90","f":350,"v":84.3},{"a":"90","f":410,"v":85.6},{"a":"90","f":440,"v":85.9},{"a":"90","f":480,"v":85.6},{"a":"90","f":530,"v":85.1},{"a":"90","f":570,"v":84.7},{"a":"90","f":610,"v":84},{"a":"90","f":645,"v":83.2},{"a":"90","f":700,"v":81.8},{"a":"90","f":750,"v":81.2},{"a":"90","f":810,"v":81.1},{"a":"90","f":850,"v":81.7},{"a":"90","f":900,"v":82.7},{"a":"90","f":960,"v":83.5},{"a":"90","f":1010,"v":83.8},{"a":"90","f":1070,"v":83.7},{"a":"90","f":1140,"v":83.4},{"a":"90","f":1230,"v":82.9},{"a":"90","f":1330,"v":82.4},{"a":"90","f":1420,"v":81.7},{"a":"90","f":1500,"v":81.2},{"a":"90","f":1560,"v":81.9},{"a":"90","f":1620,"v":82.6},{"a":"90","f":1690,"v":81.8},{"a":"90","f":1760,"v":80.9},{"a":"90","f":1850,"v":81.4},{"a":"90","f":1930,"v":81.35},{"a":"90","f":2020,"v":80.9},{"a":"90","f":2100,"v":81.1},{"a":"90","f":2160,"v":82},{"a":"90","f":2270,"v":82},{"a":"90","f":2400,"v":81.8},{"a":"90","f":2500,"v":80.5},{"a":"90","f":2620,"v":81},{"a":"90","f":2750,"v":80.6},{"a":"90","f":2850,"v":79.7},{"a":"90","f":3000,"v":80.3},{"a":"90","f":3150,"v":79.2},{"a":"90","f":3300,"v":78},{"a":"90","f":3400,"v":75.1},{"a":"90","f":3500,"v":72.5},{"a":"90","f":3600,"v":70.6},{"a":"90","f":3700,"v":68},{"a":"90","f":3800,"v":64.5},{"a":"90","f":3900,"v":65.5},{"a":"90","f":4000,"v":67.5},{"a":"90","f":4100,"v":70},{"a":"90","f":4200,"v":72},{"a":"90","f":4300,"v":73.5},{"a":"90","f":4400,"v":73.9},{"a":"90","f":4500,"v":72.5},{"a":"90","f":4600,"v":71.8},{"a":"90","f":4700,"v":74},{"a":"90","f":4800,"v":79},{"a":"90","f":4900,"v":83},{"a":"90","f":5000,"v":86},{"a":"90","f":5150,"v":87},{"a":"90","f":5300,"v":87.2},{"a":"90","f":5450,"v":87.5},{"a":"90","f":5600,"v":87.6},{"a":"90","f":5800,"v":87.2},{"a":"90","f":6000,"v":86.3},{"a":"90","f":6200,"v":85},{"a":"90","f":6400,"v":83.8},{"a":"90","f":6700,"v":82.2},{"a":"90","f":7000,"v":81.4},{"a":"90","f":7150,"v":82.5},{"a":"90","f":7350,"v":85},{"a":"90","f":7600,"v":87.8},{"a":"90","f":7900,"v":88.8},{"a":"90","f":8200,"v":88},{"a":"90","f":8550,"v":86},{"a":"90","f":8900,"v":84.3},{"a":"90","f":9200,"v":79},{"a":"90","f":9500,"v":72},{"a":"90","f":9800,"v":68},{"a":"90","f":10100,"v":68.5},{"a":"90","f":10400,"v":65.2},{"a":"90","f":10800,"v":67},{"a":"90","f":11200,"v":69.9},{"a":"90","f":12000,"v":68.5},{"a":"90","f":12700,"v":69},{"a":"90","f":13500,"v":69.5},{"a":"90","f":14000,"v":68.1},{"a":"90","f":14500,"v":65},{"a":"90","f":15000,"v":62}
]},
"mark": {"type": "line", "clip": true, "interpolate": "monotone"},
"encoding": {
"x": {"field": "f", "type": "quantitative", "scale": {"type": "log", "domain": [20, 20000], "nice": false},
 "axis": {"values": [20,30,40,50,60,70,80,90,100,200,300,400,500,600,700,800,900,1000,2000,3000,4000,5000,6000,7000,8000,9000,10000,20000],
  "labelExpr": "datum.value == 20 ? '20Hz' : (datum.value == 50 || datum.value == 100 || datum.value == 200 || datum.value == 500) ? datum.value + '' : datum.value == 1000 ? '1k' : datum.value == 2000 ? '2k' : datum.value == 5000 ? '5k' : datum.value == 10000 ? '10k' : datum.value == 20000 ? '20k' : ''",
  "grid": true, "gridColor": {"condition": {"test": "datum.value == 100 || datum.value == 1000 || datum.value == 10000", "value": "#7a7a7a"}, "value": "#d9d9d9"},
  "ticks": false, "domain": false, "labelPadding": 4, "labelFontSize": 12, "labelColor": "#000000", "labelFlush": false, "labelOverlap": false, "title": null}},
"y": {"field": "v", "type": "quantitative", "scale": {"domain": [65, 105], "nice": false, "zero": false},
 "axis": {"values": [65,66,67,68,69,70,71,72,73,74,75,76,77,78,79,80,81,82,83,84,85,86,87,88,89,90,91,92,93,94,95,96,97,98,99,100,101,102,103,104,105],
  "labelExpr": "datum.value % 5 == 0 ? datum.value + '' : ''",
  "labelOffset": {"condition": {"test": "datum.value == 65", "value": -3}, "value": 0},
  "grid": true, "gridColor": {"condition": {"test": "datum.value % 5 == 0", "value": "#7a7a7a"}, "value": "#d9d9d9"},
  "ticks": false, "domain": false, "labelPadding": 3, "labelFontSize": 12, "labelColor": "#000000", "labelOverlap": false,
  "title": "dB", "titleAngle": 0, "titleX": 3, "titleY": -8, "titleAlign": "left", "titleBaseline": "middle", "titleFontWeight": "normal", "titleFontSize": 12, "titleColor": "#000000"}},
"color": {"field": "a", "type": "nominal", "scale": {"domain": ["0","10","20","30","40","50","60","70","80","90"], "range": ["#6e6e6e","#b43cff","#8c28f0","#6432ff","#3c3cff","#2878ff","#28a8f0","#28d2c8","#32e08c","#ff2800"]}, "legend": null},
"strokeWidth": {"condition": [{"test": "datum.a == '0'", "value": 2.6}, {"test": "datum.a == '90'", "value": 2.2}], "value": 1.1}
}
}
